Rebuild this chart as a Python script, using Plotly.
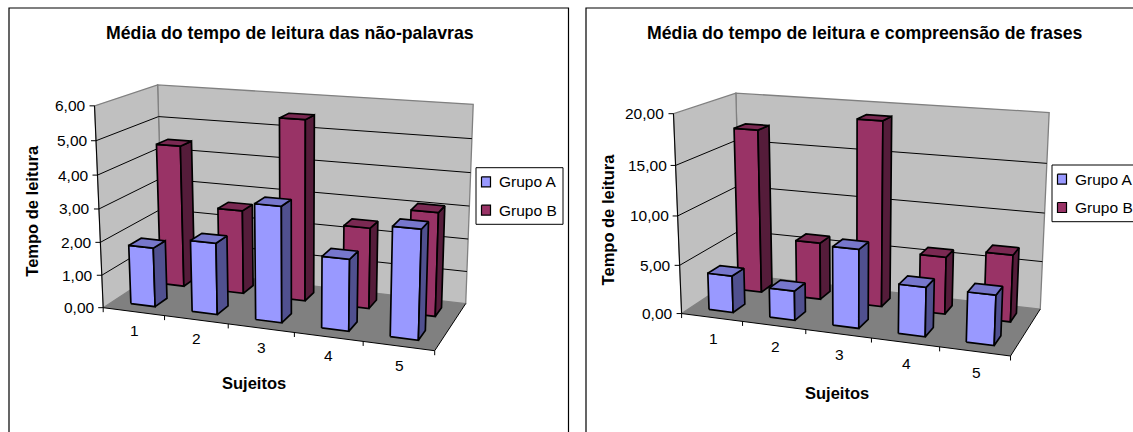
import numpy as np
import plotly.graph_objects as go

# ---- data ----
categories = ["1", "2", "3", "4", "5"]
series_names = ["Grupo A", "Grupo B"]
value_ticks_left = [0, 1, 2, 3, 4, 5, 6]
value_ticks_right = [0, 5, 10, 15, 20]
left_grupo_a = [1.80, 2.15, 3.42, 2.10, 3.15]
left_grupo_b = [4.43, 2.60, 5.50, 2.45, 3.10]
right_grupo_a = [3.8, 3.0, 7.9, 4.9, 4.9]
right_grupo_b = [17.2, 6.0, 19.0, 5.9, 6.8]
title_left = "Média do tempo de leitura das não-palavras"
title_right = "Média do tempo de leitura e compreensão de frases"
xtitle = "Sujeitos"
ytitle = "Tempo de leitura"

# ---- styles ----
WALL, FLOOR, EDGE = "#C0C0C0", "#808080", "#808080"
COL = {"Grupo A": ("#9999FF", "#50508F", "#7777CC"),
       "Grupo B": ("#993366", "#551C3A", "#7A2952")}
FONT = "Liberation Sans, Arial, sans-serif"
TICK_SIZE = 15.5
TITLE_SIZE = 17.7
AXT_SIZE = 16.5


def calibrate(pairs):
    A, b = [], []
    for (X, Y, Z), (u, v) in pairs:
        A.append([X, Y, Z, 1, 0, 0, 0, 0, -u * X, -u * Y, -u * Z]); b.append(u)
        A.append([0, 0, 0, 0, X, Y, Z, 1, -v * X, -v * Y, -v * Z]); b.append(v)
    h = np.linalg.lstsq(np.array(A, float), np.array(b, float), rcond=None)[0]
    return np.append(h, 1.0).reshape(3, 4)


fig = go.Figure()


def poly(pts, fill=None, line="black", w=1.0, close=True):
    xs = [p[0] for p in pts]
    ys = [p[1] for p in pts]
    if close:
        xs.append(xs[0]); ys.append(ys[0])
    fig.add_trace(go.Scatter(x=xs, y=ys, mode="lines" if line else "none",
                             fill="toself" if fill else None,
                             fillcolor=fill,
                             line=dict(color=line or "rgba(0,0,0,0)", width=w),
                             hoverinfo="skip", showlegend=False))


def text(x, y, s, size=TICK_SIZE, bold=False, anchor="center", angle=0):
    fig.add_annotation(x=x, y=y, xref="x", yref="y", text=f"<b>{s}</b>" if bold else s,
                       showarrow=False, xanchor=anchor, yanchor="middle", textangle=angle,
                       font=dict(family=FONT, size=size, color="black"))


def panel(corners, a_vals, b_vals, ticks, title, title_xy, ytitle_xy, xtitle_xy,
          legend_box, frame, catoff, tickoff):
    M = calibrate(corners)
    vmax = ticks[-1]

    def P(cat, depth, val):
        X = np.array([cat / len(categories), depth, val / vmax, 1.0])
        r = M @ X
        return (r[0] / r[2], r[1] / r[2])

    n = len(categories)
    # frame
    poly(frame, line="black", w=1.2, close=False)
    # walls and floor
    poly([P(0, 1, 0), P(n, 1, 0), P(n, 1, vmax), P(0, 1, vmax)], fill=WALL, line=EDGE, w=1.3)
    poly([P(0, 0, 0), P(0, 1, 0), P(0, 1, vmax), P(0, 0, vmax)], fill=WALL, line=EDGE, w=1.3)
    poly([P(0, 0, 0), P(n, 0, 0), P(n, 1, 0), P(0, 1, 0)], fill=FLOOR, line=None)
    # gridlines
    for t in ticks[1:-1]:
        poly([P(0, 0, t), P(0, 1, t), P(n, 1, t)], w=1.0, close=False)
    # axes
    poly([P(0, 0, 0), P(0, 0, vmax)], w=1.0, close=False)
    poly([P(n, 1, 0), P(n, 0, 0), P(0, 0, 0)], w=1.0, close=False)
    for t in ticks:
        x, y = P(0, 0, t)
        poly([(x - 5, y), (x, y)], w=1.0, close=False)
        text(x + tickoff, y, f"{t:.2f}".replace(".", ","), anchor="right")
    for i in range(n + 1):
        x, y = P(i, 0, 0)
        poly([(x, y), (x, y + 4.5)], w=1.0, close=False)
    for i, c in enumerate(categories):
        x, y = P(i + 0.5, 0, 0)
        text(x + catoff[0], y + catoff[1], c)
    # bars, back row first
    for name, vals, d0, d1 in [("Grupo B", b_vals, 0.65, 0.85), ("Grupo A", a_vals, 0.15, 0.35)]:
        fc, sc, tc = COL[name]
        for i, v in enumerate(vals):
            x0, x1 = i + 0.3, i + 0.7
            poly([P(x0, d0, 0), P(x1, d0, 0), P(x1, d0, v), P(x0, d0, v)], fill=fc, w=1.7)
            poly([P(x1, d0, 0), P(x1, d1, 0), P(x1, d1, v), P(x1, d0, v)], fill=sc, w=1.7)
            poly([P(x0, d0, v), P(x1, d0, v), P(x1, d1, v), P(x0, d1, v)], fill=tc, w=1.7)
    # titles
    text(*title_xy, title, size=TITLE_SIZE, bold=True)
    text(*ytitle_xy, ytitle, size=AXT_SIZE, bold=True, angle=-90)
    text(*xtitle_xy, xtitle, size=AXT_SIZE, bold=True)
    # legend
    lx0, ly0, lx1, ly1 = legend_box
    poly([(lx0, ly0), (lx1, ly0), (lx1, ly1), (lx0, ly1)], fill="white", w=1.0)
    for k, name in enumerate(series_names):
        cy = ly0 + (ly1 - ly0) * (0.25 + 0.5 * k)
        kx = lx0 + 10
        poly([(kx - 4.5, cy - 5), (kx + 4.5, cy - 5), (kx + 4.5, cy + 5), (kx - 4.5, cy + 5)],
             fill=COL[name][0], w=1.2)
        text(lx0 + 21, cy, name, anchor="left")


panel(corners=[((0, 0, 0), (103.3, 308.3)), ((1, 0, 0), (434.3, 350.7)), ((1, 1, 0), (466, 303.5)),
               ((0, 1, 0), (163, 268)), ((0, 0, 1), (94.8, 105.2)), ((0, 1, 1), (157.3, 85.5)),
               ((1, 1, 1), (473.3, 104.3))],
      a_vals=left_grupo_a, b_vals=left_grupo_b, ticks=value_ticks_left,
      title=title_left, title_xy=(290.4, 32.5), ytitle_xy=(32, 210.7), xtitle_xy=(253.7, 382.5),
      legend_box=(476, 167.7, 563, 224.3),
      frame=[(9, 432), (9, 8), (568.5, 8), (568.5, 432)], catoff=(0.5, 19), tickoff=-6.5)

panel(corners=[((0, 0, 0), (681.3, 313.3)), ((1, 0, 0), (1010.2, 356.7)), ((1, 1, 0), (1040.4, 308.3)),
               ((0, 1, 0), (741, 275)), ((0, 0, 1), (674.1, 113.3)), ((0, 1, 1), (735.2, 93.3)),
               ((1, 1, 1), (1049.3, 112.7))],
      a_vals=right_grupo_a, b_vals=right_grupo_b, ticks=value_ticks_right,
      title=title_right, title_xy=(865.4, 32.5), ytitle_xy=(607.7, 219.7), xtitle_xy=(836.8, 392.5),
      legend_box=(1052, 165, 1145, 221.7),
      frame=[(586, 432), (586, 8), (1140, 8)], catoff=(1.5, 21), tickoff=-7)

fig.update_layout(width=1133, height=432, margin=dict(l=0, r=0, t=0, b=0),
                  paper_bgcolor="white", plot_bgcolor="white", showlegend=False,
                  xaxis=dict(range=[0, 1133], visible=False, fixedrange=True),
                  yaxis=dict(range=[432, 0], visible=False, fixedrange=True))
fig.write_html("out.html", config=dict(displayModeBar=False),
               post_script="document.body.style.margin='0';document.body.style.overflow='hidden';")
